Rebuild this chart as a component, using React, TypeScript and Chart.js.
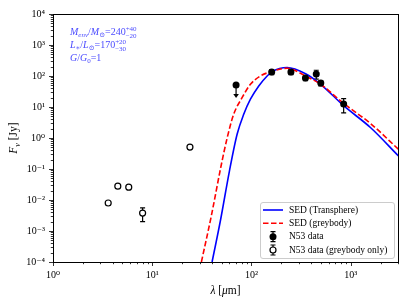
import React, { useEffect, useRef } from "react";
import { Chart, registerables } from "chart.js";
Chart.register(...registerables);

// ---- data ----
const transLambda = [40.1, 48.6, 60, 71.7, 83.6, 97.7, 118.5, 144, 162, 229, 351, 498, 856, 1592, 3034];
const transFlux = [1e-4, 2.1e-3, 0.086, 1.32, 5.8, 17.8, 47.6, 100, 138, 187, 118, 54, 10.8, 2.14, 0.263];

const greyLambda = [31.3, 39.4, 49.4, 56.9, 66.2, 80.5, 97.7, 123, 158, 229, 351, 498, 856, 1592, 3034];
const greyFlux = [1e-4, 3.05e-3, 0.125, 1.0, 5.8, 20, 54, 100, 138, 178, 100, 54, 12.8, 2.9, 0.43];

const n53Lambda = [70, 160, 250, 350, 450, 500, 850];
const n53Flux = [51, 135, 135, 86, 116, 59, 12.5];
const n53Err = [0, 25, 25, 15, 37, 11, 6];
const n53LimitTo = [21, 0, 0, 0, 0, 0, 0];

const greyOnlyLambda = [3.6, 4.5, 5.8, 8.0, 24];
const greyOnlyFlux = [0.008, 0.028, 0.026, 0.0038, 0.51];
const greyOnlyErr = [0.0004, 0.0014, 0.0013, 0.0018, 0.025];

const xMin = 1, xMax = 3000;
const yMin = 1e-4, yMax = 1e4;
const xLabelPowers = [0, 1, 2, 3];
const yLabelPowers = [-4, -3, -2, -1, 0, 1, 2, 3, 4];

const legendLabels = ["SED (Transphere)", "SED (greybody)", "N53 data", "N53 data (greybody only)"];

const SERIF = "'Liberation Serif', 'DejaVu Serif', serif";
const SUP: Record<string, string> = { "-": "⁻", "0": "⁰", "1": "¹", "2": "²", "3": "³", "4": "⁴", "5": "⁵", "6": "⁶", "7": "⁷", "8": "⁸", "9": "⁹" };
const supText = (n: number) => String(n).split("").map((c) => SUP[c]).join("");

function logTicks(min: number, max: number) {
  const out: { value: number; major: boolean }[] = [];
  for (let e = Math.floor(Math.log10(min)); e <= Math.ceil(Math.log10(max)); e++) {
    for (let m = 1; m < 10; m++) {
      const v = Number(`${m}e${e}`);
      if (v >= min * 0.9999 && v <= max * 1.0001) out.push({ value: v, major: m === 1 });
    }
  }
  return out;
}

function labelFor(powers: number[]) {
  return (value: any) => {
    const v = Number(value);
    const l = Math.log10(v);
    const r = Math.round(l);
    if (Math.abs(l - r) < 1e-6 && powers.includes(r)) return "10" + supText(r);
    return "";
  };
}

type Seg = { t: string; it?: boolean; s: number; dy?: number; stack?: boolean };
const segFont = (sg: Seg) => `${sg.it ? "italic " : ""}${sg.s}px ${SERIF}`;
function richWidth(ctx: CanvasRenderingContext2D, segs: Seg[]) {
  let w = 0, pend = 0;
  for (const sg of segs) {
    ctx.font = segFont(sg);
    const mw = ctx.measureText(sg.t).width;
    if (sg.stack) pend = Math.max(pend, mw);
    else { w += Math.max(mw, pend); pend = 0; }
  }
  return w + pend;
}
function drawRich(ctx: CanvasRenderingContext2D, segs: Seg[], x: number, y: number) {
  let cx = x, pend = 0;
  ctx.textBaseline = "alphabetic";
  ctx.textAlign = "left";
  for (const sg of segs) {
    ctx.font = segFont(sg);
    const mw = ctx.measureText(sg.t).width;
    ctx.fillText(sg.t, cx, y + (sg.dy || 0));
    if (sg.stack) pend = Math.max(pend, mw);
    else { cx += Math.max(mw, pend); pend = 0; }
  }
}

const decor = {
  id: "decor",
  beforeDatasetsDraw(chart: any) {
    const ctx: CanvasRenderingContext2D = chart.ctx;
    const xs = chart.scales.x, ys = chart.scales.y;
    ctx.save();
    ctx.strokeStyle = "#000";
    ctx.lineWidth = 1.2;
    const bar = (lam: number, lo: number, hi: number) => {
      const x = xs.getPixelForValue(lam);
      const y1 = ys.getPixelForValue(lo), y2 = ys.getPixelForValue(hi);
      ctx.beginPath();
      ctx.moveTo(x, y1); ctx.lineTo(x, y2);
      ctx.moveTo(x - 2.5, y1); ctx.lineTo(x + 2.5, y1);
      ctx.moveTo(x - 2.5, y2); ctx.lineTo(x + 2.5, y2);
      ctx.stroke();
    };
    n53Lambda.forEach((l, i) => { if (n53Err[i] > 0) bar(l, n53Flux[i] - n53Err[i], n53Flux[i] + n53Err[i]); });
    greyOnlyLambda.forEach((l, i) => bar(l, greyOnlyFlux[i] - greyOnlyErr[i], greyOnlyFlux[i] + greyOnlyErr[i]));
    // upper limits
    n53Lambda.forEach((l, i) => {
      if (n53LimitTo[i] > 0) {
        const x = xs.getPixelForValue(l);
        const y1 = ys.getPixelForValue(n53Flux[i]);
        const y2 = ys.getPixelForValue(n53LimitTo[i]);
        ctx.beginPath(); ctx.moveTo(x, y1); ctx.lineTo(x, y2 - 2); ctx.stroke();
        ctx.fillStyle = "#000";
        ctx.beginPath(); ctx.moveTo(x - 2.8, y2 - 3); ctx.lineTo(x + 2.8, y2 - 3); ctx.lineTo(x, y2 + 1); ctx.closePath(); ctx.fill();
      }
    });
    ctx.restore();
  },
  afterDraw(chart: any) {
    const ctx: CanvasRenderingContext2D = chart.ctx;
    const a = chart.chartArea;
    const xs = chart.scales.x, ys = chart.scales.y;
    ctx.save();
    // frame
    ctx.strokeStyle = "#000";
    ctx.lineWidth = 1;
    ctx.strokeRect(Math.round(a.left) + 0.5, Math.round(a.top) + 0.5, Math.round(a.right - a.left), Math.round(a.bottom - a.top));
    // tick marks
    ctx.lineWidth = 0.8;
    ctx.beginPath();
    for (const t of xs.ticks) {
      const x = Math.round(xs.getPixelForValue(t.value)) + 0.5;
      const len = t.major ? 4 : 2.2;
      ctx.moveTo(x, a.bottom); ctx.lineTo(x, a.bottom + len);
    }
    for (const t of ys.ticks) {
      const y = Math.round(ys.getPixelForValue(t.value)) + 0.5;
      const len = t.major ? 4 : 2.2;
      ctx.moveTo(a.left, y); ctx.lineTo(a.left - len, y);
    }
    ctx.stroke();
    ctx.fillStyle = "#000";
    // x title
    const xt: Seg[] = [{ t: "λ", it: true, s: 11.5 }, { t: " [", s: 11.5 }, { t: "μ", it: true, s: 11.5 }, { t: "m]", s: 11.5 }];
    drawRich(ctx, xt, (a.left + a.right) / 2 - richWidth(ctx, xt) / 2, 294);
    // y title
    const yt: Seg[] = [{ t: "F", it: true, s: 11.5 }, { t: "ν", it: true, s: 8, dy: 2.5 }, { t: " [Jy]", s: 11.5 }];
    ctx.save();
    ctx.translate(17, (a.top + a.bottom) / 2);
    ctx.rotate(-Math.PI / 2);
    drawRich(ctx, yt, -richWidth(ctx, yt) / 2, 0);
    ctx.restore();
    // annotation
    ctx.fillStyle = "#4b4bff";
    const l1: Seg[] = [
      { t: "M", it: true, s: 10 }, { t: "env", it: true, s: 7, dy: 2 }, { t: "/", s: 10 }, { t: "M", it: true, s: 10 }, { t: "⊙", s: 7, dy: 2 },
      { t: "=240", s: 10 }, { t: "+40", s: 7, dy: -4, stack: true }, { t: "−20", s: 7, dy: 3 },
    ];
    const l2: Seg[] = [
      { t: "L", it: true, s: 10 }, { t: "∗", s: 7, dy: 2 }, { t: "/", s: 10 }, { t: "L", it: true, s: 10 }, { t: "⊙", s: 7, dy: 2 },
      { t: "=170", s: 10 }, { t: "+20", s: 7, dy: -4, stack: true }, { t: "−30", s: 7, dy: 3 },
    ];
    const l3: Seg[] = [{ t: "G", it: true, s: 10 }, { t: "/", s: 10 }, { t: "G", it: true, s: 10 }, { t: "0", s: 7, dy: 2 }, { t: "=1", s: 10 }];
    drawRich(ctx, l1, 70, 35);
    drawRich(ctx, l2, 70, 48);
    drawRich(ctx, l3, 70, 61);
    // legend
    const bx = 260.5, by = 202.5, bw = 134, bh = 56;
    ctx.fillStyle = "rgba(255,255,255,0.85)";
    ctx.strokeStyle = "#cccccc";
    ctx.lineWidth = 1;
    ctx.beginPath();
    (ctx as any).roundRect(bx, by, bw, bh, 2.5);
    ctx.fill(); ctx.stroke();
    const rows = [210, 223.3, 236.7, 250];
    const hx0 = 263, hx1 = 283, hc = 273;
    ctx.lineWidth = 1.6;
    ctx.strokeStyle = "#0000ff";
    ctx.beginPath(); ctx.moveTo(hx0, rows[0]); ctx.lineTo(hx1, rows[0]); ctx.stroke();
    ctx.strokeStyle = "#ff0000";
    ctx.setLineDash([5.5, 2.5]);
    ctx.beginPath(); ctx.moveTo(hx0, rows[1]); ctx.lineTo(hx1, rows[1]); ctx.stroke();
    ctx.setLineDash([]);
    ctx.strokeStyle = "#000";
    ctx.lineWidth = 1.2;
    for (const r of [rows[2], rows[3]]) {
      ctx.beginPath();
      ctx.moveTo(hc, r - 5); ctx.lineTo(hc, r + 5);
      ctx.moveTo(hc - 2.5, r - 5); ctx.lineTo(hc + 2.5, r - 5);
      ctx.moveTo(hc - 2.5, r + 5); ctx.lineTo(hc + 2.5, r + 5);
      ctx.stroke();
    }
    ctx.fillStyle = "#000";
    ctx.beginPath(); ctx.arc(hc, rows[2], 3.5, 0, Math.PI * 2); ctx.fill();
    ctx.fillStyle = "#fff";
    ctx.beginPath(); ctx.arc(hc, rows[3], 3, 0, Math.PI * 2); ctx.fill(); ctx.stroke();
    ctx.fillStyle = "#000";
    ctx.font = `9.5px ${SERIF}`;
    ctx.textBaseline = "middle";
    ctx.textAlign = "left";
    legendLabels.forEach((t, i) => ctx.fillText(t, 289, rows[i]));
    ctx.restore();
  },
};

export default function App() {
  const ref = useRef<HTMLCanvasElement>(null);
  useEffect(() => {
    const chart = new Chart(ref.current as HTMLCanvasElement, {
      type: "scatter",
      data: {
        datasets: [
          {
            label: "N53 data",
            data: n53Lambda.map((x, i) => ({ x, y: n53Flux[i] })),
            pointRadius: 3.5,
            pointBackgroundColor: "#000",
            pointBorderColor: "#000",
            pointBorderWidth: 0,
            showLine: false,
            order: 0,
          },
          {
            label: "N53 data (greybody only)",
            data: greyOnlyLambda.map((x, i) => ({ x, y: greyOnlyFlux[i] })),
            pointRadius: 3,
            pointBackgroundColor: "#fff",
            pointBorderColor: "#000",
            pointBorderWidth: 1.2,
            showLine: false,
            order: 0,
          },
          {
            label: "SED (Transphere)",
            data: transLambda.map((x, i) => ({ x, y: transFlux[i] })),
            showLine: true,
            borderColor: "#0000ff",
            borderWidth: 1.6,
            pointRadius: 0,
            cubicInterpolationMode: "monotone",
            order: 2,
          },
          {
            label: "SED (greybody)",
            data: greyLambda.map((x, i) => ({ x, y: greyFlux[i] })),
            showLine: true,
            borderColor: "#ff0000",
            borderWidth: 1.6,
            borderDash: [5.5, 2.5],
            pointRadius: 0,
            cubicInterpolationMode: "monotone",
            order: 1,
          },
        ],
      },
      options: {
        responsive: false,
        devicePixelRatio: 1,
        animation: false,
        events: [],
        layout: { padding: { top: 13, right: 9, left: 0, bottom: 0 } },
        plugins: { legend: { display: false }, tooltip: { enabled: false } },
        scales: {
          x: {
            type: "logarithmic",
            min: xMin,
            max: xMax,
            afterFit: (s: any) => { s.height = 43; },
            afterBuildTicks: (s: any) => { s.ticks = logTicks(xMin, xMax); },
            grid: { display: false, drawTicks: false },
            border: { display: false },
            ticks: { autoSkip: false, maxRotation: 0, padding: 7, color: "#000", font: { family: SERIF, size: 10 }, callback: labelFor(xLabelPowers) },
          },
          y: {
            type: "logarithmic",
            min: yMin,
            max: yMax,
            afterFit: (s: any) => { s.width = 53; },
            afterBuildTicks: (s: any) => { s.ticks = logTicks(yMin, yMax); },
            grid: { display: false, drawTicks: false },
            border: { display: false },
            ticks: { autoSkip: false, padding: 8, color: "#000", font: { family: SERIF, size: 10 }, callback: labelFor(yLabelPowers) },
          },
        },
      } as any,
      plugins: [decor],
    });
    return () => chart.destroy();
  }, []);
  return (
    <div style={{ position: "fixed", left: 0, top: 0, width: 407, height: 305, background: "#fff" }}>
      <canvas ref={ref} width={407} height={305} style={{ display: "block", width: 407, height: 305 }} />
    </div>
  );
}
